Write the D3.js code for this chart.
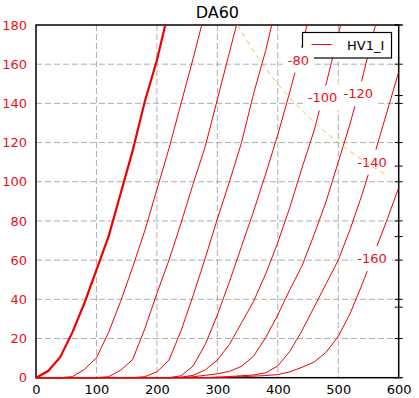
<!DOCTYPE html>
<html>
<head>
<meta charset="utf-8">
<script src="https://cdn.jsdelivr.net/npm/d3@7/dist/d3.min.js"></script>
<style>
  body { margin: 0; background: #fff; }
  text { font-family: "DejaVu Sans", sans-serif; }
</style>
</head>
<body>
<script>
// anode voltage steps (V)
var va = [0, 20, 40, 60, 80, 100, 120, 140, 160, 180, 200, 220, 240, 260, 280, 300,
          320, 340, 360, 380, 400, 420, 440, 460, 480, 500, 520, 540, 560, 580, 600];

// anode current (mA) for each grid voltage, one value per va step
var ia0   = [0, 3.4, 10.5, 23, 38, 55, 72, 94, 116, 141, 162, 188];
var ia20  = [0, 0, 0, 0.5, 4.2, 10.2, 23, 39, 56.5, 75, 96, 117, 140, 163, 187];
var ia40  = [0, 0, 0, 0, 0, 0, 0.5, 3.8, 9.3, 25, 43, 60, 79, 99, 118, 142, 166, 190];
var ia60  = [0, 0, 0, 0, 0, 0, 0, 0, 0, 0.5, 3, 9, 24, 42, 61, 81, 100, 120, 145, 167, 193];
var ia80  = [0, 0, 0, 0, 0, 0, 0, 0, 0, 0, 0, 0, 1, 6, 17, 32, 49, 67, 85, 104, 124, 146, 169, 196];
var ia100 = [0, 0, 0, 0, 0, 0, 0, 0, 0, 0, 0, 0, 0.3, 1.2, 4, 9, 17, 28, 39, 53, 69, 87, 107, 126, 150, 175, 200];
var ia120 = [0, 0, 0, 0, 0, 0, 0, 0, 0, 0, 0, 0, 0, 0.5, 1.2, 2, 3.2, 5.8, 11, 20.5, 32, 45, 57, 73, 90, 110, 130, 153, 178, 200];
var ia140 = [0, 0, 0, 0, 0, 0, 0, 0, 0, 0, 0, 0, 0, 0, 0, 0.3, 0.6, 1, 1.4, 2.5, 6, 13.5, 24, 36, 48, 60, 76, 94, 114, 135, 156];
var ia160 = [0, 0, 0, 0, 0, 0, 0, 0, 0, 0, 0, 0, 0, 0, 0, 0, 0.3, 0.5, 0.8, 1.1, 1.6, 3, 5.3, 8, 13, 21, 33, 48, 64, 80, 97];

var gridV  = [0, -20, -40, -60, -80, -100, -120, -140, -160];
var curves = [ia0, ia20, ia40, ia60, ia80, ia100, ia120, ia140, ia160];

// grid voltages that carry an inline label, and the anode voltage where it sits
var labelled = [-80, -100, -120, -140, -160];
var labelAt  = [434, 474, 533, 556, 556];

// max dissipation line
var pdV = [333, 360, 400, 440, 480, 520, 560, 580];
var pdI = [180, 166.7, 150, 136.4, 125, 115.4, 107.1, 103.4];

var xTicks = [0, 100, 200, 300, 400, 500, 600];
var yTicks = [0, 20, 40, 60, 80, 100, 120, 140, 160, 180];
var y2Ticks = [0, 1, 2, 3, 4, 5];

var width = 419, height = 398;
var plotL = 36, plotR = 398.7, plotT = 25, plotB = 377.7;

var x = d3.scaleLinear().domain([0, 600]).range([plotL, plotR]);
var y = d3.scaleLinear().domain([0, 180]).range([plotB, plotT]);
var y2 = d3.scaleLinear().domain([0, 5]).range([plotB, plotT]);

var svg = d3.select("body")
            .append("svg")
            .attr("width", width)
            .attr("height", height);

svg.append("defs").append("clipPath")
    .attr("id", "plot")
    .append("rect")
    .attr("x", plotL)
    .attr("y", plotT)
    .attr("width", plotR - plotL)
    .attr("height", plotB - plotT + 1);

// grid
var grid = svg.append("g")
    .attr("stroke", "#999")
    .attr("stroke-width", 0.8)
    .attr("stroke-dasharray", "6,3");
grid.selectAll(".gx")
    .data(xTicks.slice(1, -1))
    .enter().append("line")
    .attr("x1", d => x(d)).attr("x2", d => x(d))
    .attr("y1", plotT).attr("y2", plotB);
grid.selectAll(".gy")
    .data(yTicks.slice(1, -1))
    .enter().append("line")
    .attr("x1", plotL).attr("x2", plotR)
    .attr("y1", d => y(d)).attr("y2", d => y(d));

// frame
svg.append("rect")
    .attr("x", plotL).attr("y", plotT)
    .attr("width", plotR - plotL).attr("height", plotB - plotT)
    .attr("fill", "none")
    .attr("stroke", "#000")
    .attr("stroke-width", 1.5);

// tick labels
var xAxis = svg.append("g")
    .attr("transform", `translate(0,${plotB})`)
    .call(d3.axisBottom(x).tickValues(xTicks).tickSize(0).tickPadding(7));
xAxis.select(".domain").remove();
xAxis.selectAll("text")
    .attr("font-family", "DejaVu Sans")
    .attr("font-size", 13)
    .attr("fill", "#000");

var yAxis = svg.append("g")
    .attr("transform", `translate(${plotL},0)`)
    .call(d3.axisLeft(y).tickValues(yTicks).tickSize(0).tickPadding(9));
yAxis.select(".domain").remove();
yAxis.selectAll("text")
    .attr("font-family", "DejaVu Sans")
    .attr("font-size", 13)
    .attr("fill", "#e8101a");

// curves
var line = d3.line()
    .x((d, i) => x(va[i]))
    .y(d => y(d));

var plot = svg.append("g").attr("clip-path", "url(#plot)");
plot.selectAll("path.curve")
    .data(curves.slice(1))
    .enter().append("path")
    .attr("class", "curve")
    .attr("d", line)
    .attr("fill", "none")
    .attr("stroke", "#ee0000")
    .attr("stroke-width", 1);
plot.append("path")
    .attr("d", line(ia0))
    .attr("fill", "none")
    .attr("stroke", "#ee0000")
    .attr("stroke-width", 2.2);

// legend
var legend = svg.append("g");
legend.append("rect")
    .attr("x", 302.5).attr("y", 32.5)
    .attr("width", 89).attr("height", 25.5)
    .attr("fill", "#fff")
    .attr("stroke", "#000")
    .attr("stroke-width", 1.2);
legend.append("line")
    .attr("x1", 311.5).attr("x2", 331.5)
    .attr("y1", 44.5).attr("y2", 44.5)
    .attr("stroke", "#ee0000")
    .attr("stroke-width", 1);
legend.append("text")
    .attr("x", 347).attr("y", 50)
    .attr("font-size", 13)
    .attr("fill", "#000")
    .text("HV1_I");

// inline curve labels
function currentAt(ia, v) {
    var i = Math.min(Math.floor(v / 20), ia.length - 2);
    var t = (v - va[i]) / 20;
    return ia[i] + t * (ia[i + 1] - ia[i]);
}

labelled.forEach((g, k) => {
    var ia = curves[gridV.indexOf(g)];
    var cx = x(labelAt[k]);
    var cy = y(currentAt(ia, labelAt[k]));
    var lg = svg.append("g");
    var box = lg.append("rect").attr("fill", "#fff");
    var t = lg.append("text")
        .attr("x", cx).attr("y", cy)
        .attr("dy", "0.35em")
        .attr("text-anchor", "middle")
        .attr("font-size", 13)
        .attr("fill", "#e8101a")
        .text(g);
    var bb = t.node().getBBox();
    box.attr("x", bb.x - 5).attr("y", bb.y - 5)
       .attr("width", bb.width + 10).attr("height", bb.height + 10);
});

// dissipation limit
svg.append("path")
    .attr("d", d3.line().curve(d3.curveMonotoneX)
        .x((d, i) => x(pdV[i]))
        .y(d => y(d))(pdI))
    .attr("fill", "none")
    .attr("stroke", "#f2b448")
    .attr("stroke-width", 0.9)
    .attr("stroke-dasharray", "5,4");

// right side ticks (main axis and twin axis), crossing the spine
[[y, yTicks], [y2, y2Ticks]].forEach(([s, tv]) => {
    svg.append("g")
        .selectAll("line")
        .data(tv)
        .enter().append("line")
        .attr("x1", plotR - 4).attr("x2", plotR + 4)
        .attr("y1", d => s(d)).attr("y2", d => s(d))
        .attr("stroke", "#000")
        .attr("stroke-width", 1);
});

// title
svg.append("text")
    .attr("x", (plotL + plotR) / 2)
    .attr("y", 18)
    .attr("text-anchor", "middle")
    .attr("font-size", 16)
    .attr("fill", "#000")
    .text("DA60");
</script>
</body>
</html>
